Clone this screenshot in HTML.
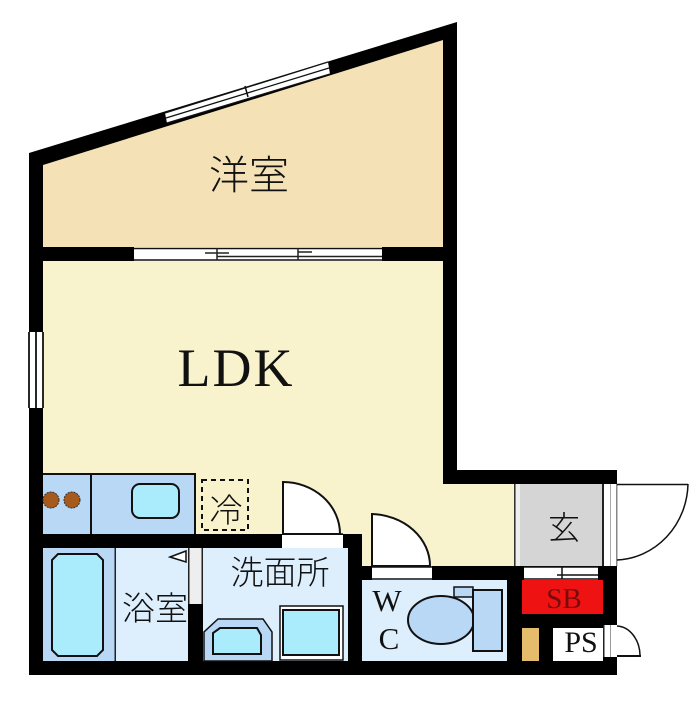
<!DOCTYPE html>
<html><head><meta charset="utf-8"><style>
html,body{margin:0;padding:0;background:#fff}
svg{display:block}
text{font-family:"Liberation Serif","Noto Serif CJK JP",serif;fill:#111}
.j{font-family:"Liberation Sans","Noto Sans CJK JP",sans-serif;font-weight:300}
</style></head><body>
<svg width="700" height="703" viewBox="0 0 700 703" xmlns="http://www.w3.org/2000/svg">
<!-- outer black -->
<polygon points="29,153 457,22 457,470 617,470 617,675 29,675" fill="#000"/>
<!-- rooms -->
<polygon points="43,165 443,40 443,247 43,247" fill="#f4e1b6"/>
<rect x="43" y="261" width="400" height="273" fill="#f8f2cd"/>
<rect x="443" y="484" width="71" height="82" fill="#f8f2cd"/>
<rect x="348" y="484" width="100" height="50" fill="#f8f2cd"/>
<rect x="362" y="534" width="90" height="32" fill="#f8f2cd"/>
<rect x="348" y="534" width="14" height="14" fill="#000"/>
<!-- genkan -->
<rect x="514" y="484" width="89" height="82" fill="#d5d5d5"/>
<rect x="514" y="484" width="1.5" height="82" fill="#333"/>
<rect x="516" y="484" width="4" height="82" fill="#eee"/>
<rect x="603" y="484" width="14" height="82" fill="#fff"/>
<rect x="602" y="484" width="2" height="82" fill="#222"/>
<rect x="610" y="484" width="1" height="82" fill="#aaa"/>
<rect x="616" y="484" width="1.5" height="82" fill="#888"/>
<!-- kitchen -->
<rect x="43" y="473" width="152" height="61" fill="#b9d8f6"/>
<path d="M43,474H195V534M91,474V534" fill="none" stroke="#111" stroke-width="2"/>
<rect x="132" y="484" width="47" height="34" rx="8" fill="#aaecfb" stroke="#111" stroke-width="2"/>
<circle cx="51" cy="500" r="8" fill="#a65a1c" stroke="#333" stroke-width="1" stroke-dasharray="2 1"/>
<circle cx="72" cy="500" r="8" fill="#a65a1c" stroke="#333" stroke-width="1" stroke-dasharray="2 1"/>
<rect x="202" y="480" width="46" height="50" fill="none" stroke="#111" stroke-width="2" stroke-dasharray="5 4"/>
<text class="j" x="226" y="522" font-size="33" text-anchor="middle">冷</text>
<!-- bath -->
<rect x="43" y="548" width="72" height="113" fill="#b9d8f6"/>
<rect x="115" y="548" width="73" height="113" fill="#ddeefc"/>
<rect x="114.500" y="548" width="1.500" height="113" fill="#222"/>
<path d="M58,554H97L103,560V650L97,656H58L52,650V560Z" fill="#aaecfb" stroke="#111" stroke-width="2"/>
<polygon points="170,557 186,551 186,562" fill="#fff" stroke="#111" stroke-width="1.500"/>
<rect x="188" y="548" width="15" height="56" fill="#eee"/>
<rect x="188" y="548" width="1.500" height="56" fill="#222"/>
<rect x="201.500" y="548" width="1.500" height="56" fill="#222"/>
<!-- wash -->
<rect x="203" y="548" width="145" height="113" fill="#ddeefc"/>
<path d="M204,661V632L218,619H263L272,632V661Z" fill="#b9d8f6" stroke="#111" stroke-width="1.500"/>
<path d="M213,654V633L220,628H257L261,635V654Z" fill="#aaecfb" stroke="#111" stroke-width="2"/>
<rect x="280" y="606" width="63" height="54" fill="#fff" stroke="#111" stroke-width="1.500"/>
<rect x="283" y="610" width="56" height="45" fill="#aaecfb" stroke="#111" stroke-width="2"/>
<!-- door gaps -->
<rect x="282" y="535" width="61" height="13" fill="#fff"/>
<path d="M282,534H343" stroke="#111" stroke-width="1.500"/>
<path d="M283,534V482A57,52 0 0 1 340,534Z" fill="#fff" stroke="#111" stroke-width="2"/>
<!-- WC -->
<rect x="362" y="580" width="145" height="81" fill="#ddeefc"/>
<rect x="372" y="566" width="60" height="14" fill="#fff"/>
<path d="M372,567H432M372,579H432" stroke="#111" stroke-width="1.500"/>
<path d="M372,566V514A60,52 0 0 1 430,566Z" fill="#fff" stroke="#111" stroke-width="2"/>
<rect x="454" y="587" width="19" height="10" fill="#b9d8f6" stroke="#111" stroke-width="1.500"/>
<ellipse cx="441" cy="620" rx="33" ry="24" fill="#b9d8f6" stroke="#111" stroke-width="2"/>
<rect x="473" y="590" width="29" height="61" fill="#b9d8f6" stroke="#111" stroke-width="2"/>
<!-- SB -->
<rect x="524" y="567" width="74" height="13" fill="#fff"/>
<path d="M524,567H598M524,579H598M562,567V579M557,575H598" stroke="#111" stroke-width="1.500" fill="none"/>
<rect x="522" y="580" width="81" height="34" fill="#ee1212"/>
<text x="564" y="608" font-size="29" text-anchor="middle" style="fill:#7a0a0a">SB</text>
<rect x="522" y="628" width="17" height="33" fill="#e5bb6c"/>
<rect x="553" y="628" width="50" height="33" fill="#fff"/>
<text x="581" y="652" font-size="30" text-anchor="middle">PS</text>
<rect x="603" y="625" width="14" height="32" fill="#fff"/>
<rect x="603" y="625" width="1.500" height="32" fill="#222"/>
<rect x="610" y="625" width="1" height="32" fill="#999"/>
<path d="M617,626A24,30 0 0 1 640,655" fill="none" stroke="#111" stroke-width="1.500"/>
<path d="M617,656H641" stroke="#111" stroke-width="2"/>
<!-- entrance door -->
<path d="M617,484.500H688M688,484A74,78 0 0 1 617,560" fill="none" stroke="#111" stroke-width="1.500"/>
<!-- LDK/yoshitsu sliding door -->
<rect x="134" y="247" width="248" height="14" fill="#fff"/>
<path d="M134,248.500H382M134,260H382" stroke="#111" stroke-width="1.500"/>
<path d="M205,253H229M217,248V260M217,256.500H298M298,256.500H382M298,248V260M298,252H312" stroke="#222" stroke-width="1.500" fill="none"/>
<!-- top window -->
<polygon points="165,113 328,62 330,74 167,123" fill="#fff"/>
<path d="M165,113L328,62M167,123L330,74M166,118L329,68" stroke="#111" stroke-width="1.300" fill="none"/>
<path d="M245,86L248,97" stroke="#111" stroke-width="1.500"/>
<!-- left window -->
<rect x="29" y="332" width="14" height="76" fill="#fff"/>
<path d="M29,332V408M36,332V408M43,332V408" stroke="#111" stroke-width="1.800"/>
<!-- labels -->
<text class="j" x="249" y="189" font-size="40" text-anchor="middle">洋室</text>
<text x="236" y="386" font-size="54" text-anchor="middle" letter-spacing="2">LDK</text>
<text class="j" x="280" y="584" font-size="33" text-anchor="middle">洗面所</text>
<text class="j" x="155" y="620" font-size="33" text-anchor="middle">浴室</text>
<text class="j" x="564" y="539" font-size="32" text-anchor="middle">玄</text>
<text x="387" y="611" font-size="31" text-anchor="middle">W</text>
<text x="389" y="649" font-size="31" text-anchor="middle">C</text>
</svg>
</body></html>
